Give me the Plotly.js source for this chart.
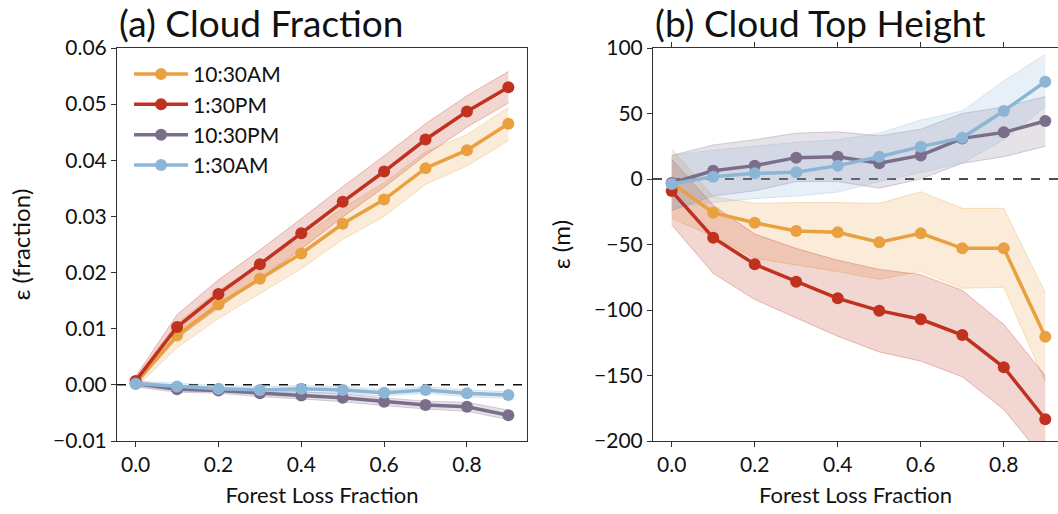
<!DOCTYPE html>
<html>
<head>
<meta charset="utf-8">
<script src="https://cdn.plot.ly/plotly-3.0.1.min.js"></script>
<style>html,body{margin:0;padding:0;background:#fff;}#chart{width:1058px;height:514px;}</style>
</head>
<body>
<div id="chart"></div>
<script>
// ---------- data ----------
const forestLoss = [0.0, 0.1, 0.2, 0.3, 0.4, 0.5, 0.6, 0.7, 0.8, 0.9];
const seriesNames = ["10:30AM", "1:30PM", "10:30PM", "1:30AM"];
const seriesColors = ["#E9A13F", "#C0321F", "#7B6E8B", "#8DB5D5"];
const seriesRGB = ["233,161,63", "192,50,31", "123,110,139", "141,181,213"];

// (a) Cloud Fraction
const cf_1030AM       = [0.0003, 0.0088, 0.0143, 0.0189, 0.0234, 0.0287, 0.0330, 0.0386, 0.0418, 0.0465];
const cf_1030AM_upper = [0.0012, 0.0110, 0.0168, 0.0215, 0.0262, 0.0315, 0.0360, 0.0415, 0.0446, 0.0494];
const cf_1030AM_lower = [-0.0005, 0.0066, 0.0118, 0.0163, 0.0207, 0.0259, 0.0300, 0.0357, 0.0390, 0.0435];

const cf_130PM       = [0.0007, 0.0103, 0.0162, 0.0215, 0.0270, 0.0326, 0.0380, 0.0437, 0.0487, 0.0530];
const cf_130PM_upper = [0.0015, 0.0125, 0.0187, 0.0240, 0.0296, 0.0353, 0.0408, 0.0465, 0.0515, 0.0558];
const cf_130PM_lower = [0.0000, 0.0083, 0.0137, 0.0190, 0.0242, 0.0299, 0.0352, 0.0409, 0.0459, 0.0502];

const cf_1030PM       = [0.0002, -0.0008, -0.0010, -0.0015, -0.0019, -0.0023, -0.0030, -0.0036, -0.0039, -0.0054];
const cf_1030PM_upper = [0.0007, -0.0003, -0.0005, -0.0009, -0.0013, -0.0016, -0.0023, -0.0029, -0.0031, -0.0045];
const cf_1030PM_lower = [-0.0004, -0.0013, -0.0015, -0.0021, -0.0025, -0.0030, -0.0037, -0.0043, -0.0047, -0.0062];

const cf_130AM       = [0.0002, -0.0003, -0.0007, -0.0009, -0.0007, -0.0009, -0.0014, -0.0009, -0.0015, -0.0018];
const cf_130AM_upper = [0.0007, 0.0003, -0.0001, -0.0003, -0.0001, -0.0003, -0.0008, -0.0003, -0.0009, -0.0012];
const cf_130AM_lower = [-0.0003, -0.0009, -0.0013, -0.0015, -0.0013, -0.0015, -0.0020, -0.0015, -0.0021, -0.0024];

// (b) Cloud Top Height (m)
const cth_1030AM       = [-3, -25.7, -33.4, -39.7, -40.7, -48.3, -41.5, -52.9, -52.9, -120.4];
const cth_1030AM_upper = [23, -13.5, -18.6, -18, -18, -18.6, -9.7, -22.4, -22.4, -87];
const cth_1030AM_lower = [-30, -44, -60.5, -65.6, -70.7, -76.6, -70.7, -83.4, -82.7, -155];

const cth_130PM       = [-9.2, -44.8, -65.1, -78.4, -91.1, -100.5, -107.1, -119.1, -143.7, -183.4];
const cth_130PM_upper = [15, -20, -42, -53, -62, -69, -73, -85, -111, -150];
const cth_130PM_lower = [-35, -72, -92, -106, -120, -132, -139, -151, -176, -215];

const cth_1030PM       = [-3, 6.3, 10.2, 16.3, 17, 12, 18, 31, 35.6, 44.3];
const cth_1030PM_upper = [18, 26, 30, 35, 36, 33, 38, 50, 55, 63];
const cth_1030PM_lower = [-24, -13, -9, -2, -2, -7, 0, 12, 17, 25];

const cth_130AM       = [-3.8, 1.8, 4.3, 5.1, 10.2, 17, 24.7, 31.5, 51.9, 74.3];
const cth_130AM_upper = [18, 22, 25, 28, 30, 35, 45, 52, 75, 95];
const cth_130AM_lower = [-22, -18, -15, -13, -10, -2, 5, 12, 30, 55];

const xTicks = [0.0, 0.2, 0.4, 0.6, 0.8];
const xTickText = ["0.0", "0.2", "0.4", "0.6", "0.8"];
const cfTicks = [-0.01, 0.0, 0.01, 0.02, 0.03, 0.04, 0.05, 0.06];
const cfTickText = ["\u22120.01", "0.00", "0.01", "0.02", "0.03", "0.04", "0.05", "0.06"];
const cthTicks = [-200, -150, -100, -50, 0, 50, 100];
const cthTickText = ["\u2212200", "\u2212150", "\u2212100", "\u221250", "0", "50", "100"];

// ---------- build traces ----------
const cfData = [
  [cf_1030AM, cf_1030AM_lower, cf_1030AM_upper],
  [cf_130PM, cf_130PM_lower, cf_130PM_upper],
  [cf_1030PM, cf_1030PM_lower, cf_1030PM_upper],
  [cf_130AM, cf_130AM_lower, cf_130AM_upper]
];
const cthData = [
  [cth_1030AM, cth_1030AM_lower, cth_1030AM_upper],
  [cth_130PM, cth_130PM_lower, cth_130PM_upper],
  [cth_1030PM, cth_1030PM_lower, cth_1030PM_upper],
  [cth_130AM, cth_130AM_lower, cth_130AM_upper]
];

const traces = [];
function addBands(data, xa, ya) {
  data.forEach((d, i) => {
    traces.push({x: forestLoss, y: d[1], xaxis: xa, yaxis: ya, mode: 'lines',
      line: {color: 'rgba(' + seriesRGB[i] + ',0.3)', width: 1}, showlegend: false, hoverinfo: 'skip'});
    traces.push({x: forestLoss, y: d[2], xaxis: xa, yaxis: ya, mode: 'lines', fill: 'tonexty',
      fillcolor: 'rgba(' + seriesRGB[i] + ',0.2)',
      line: {color: 'rgba(' + seriesRGB[i] + ',0.3)', width: 1}, showlegend: false, hoverinfo: 'skip'});
  });
}
function addLines(data, xa, ya, legend) {
  data.forEach((d, i) => {
    traces.push({x: forestLoss, y: d[0], xaxis: xa, yaxis: ya, mode: 'lines+markers', name: seriesNames[i],
      line: {color: seriesColors[i], width: 3.5}, marker: {color: seriesColors[i], size: 12},
      showlegend: legend});
  });
}
addBands(cfData, 'x', 'y');
addBands(cthData, 'x2', 'y2');
addLines(cfData, 'x', 'y', true);
addLines(cthData, 'x2', 'y2', false);

const FONT = 'Lato, "DejaVu Sans", sans-serif';
const axisCommon = {
  showgrid: false, zeroline: false, showline: true, linecolor: '#333', linewidth: 1,
  ticks: 'outside', ticklen: 5, tickwidth: 1, tickcolor: '#333',
  tickfont: {family: FONT, size: 21, color: '#111'}
};

const layout = {
  width: 1058, height: 514,
  margin: {l: 0, r: 0, t: 48, b: 73},
  paper_bgcolor: '#fff', plot_bgcolor: '#fff',
  font: {family: FONT, color: '#111'},
  showlegend: true,
  legend: {x: 0.122, y: 0.985, xanchor: 'left', yanchor: 'top', bgcolor: 'rgba(0,0,0,0)',
    traceorder: 'normal',
    font: {family: FONT, size: 21, color: '#111'}, itemwidth: 54, tracegroupgap: 0},
  xaxis: Object.assign({}, axisCommon, {domain: [117/1058, 527/1058], range: [-0.045, 0.945],
    tickvals: xTicks, ticktext: xTickText, mirror: true, anchor: 'y',
    title: {text: 'Forest Loss Fraction', font: {family: FONT, size: 22, color: '#111'}, standoff: 12}}),
  yaxis: Object.assign({}, axisCommon, {range: [-0.01, 0.06], tickvals: cfTicks, ticktext: cfTickText,
    mirror: true, anchor: 'x',
    title: {text: '\u03b5 (fraction)', font: {family: FONT, size: 24, color: '#111'}, standoff: 15}}),
  xaxis2: Object.assign({}, axisCommon, {domain: [653/1058, 1], range: [-0.045, 0.9306],
    tickvals: xTicks, ticktext: xTickText, anchor: 'y2', mirror: 'allticks',
    title: {text: 'Forest Loss Fraction', font: {family: FONT, size: 22, color: '#111'}, standoff: 12}}),
  yaxis2: Object.assign({}, axisCommon, {range: [-200, 100], tickvals: cthTicks, ticktext: cthTickText,
    anchor: 'x2',
    title: {text: '\u03b5 (m)', font: {family: FONT, size: 24, color: '#111'}, standoff: 16}}),
  shapes: [
    {type: 'line', xref: 'x domain', yref: 'y', x0: 0, x1: 1, y0: 0, y1: 0,
      line: {color: '#111', width: 1.5, dash: 'dash'}, layer: 'below'},
    {type: 'line', xref: 'x2 domain', yref: 'y2', x0: 0, x1: 1, y0: 0, y1: 0,
      line: {color: '#111', width: 1.5, dash: 'dash'}, layer: 'below'}
  ],
  annotations: [
    {text: '(a) Cloud Fraction', xref: 'paper', yref: 'paper', x: 117/1058, y: 1, yshift: 50,
      xanchor: 'left', yanchor: 'top', showarrow: false, font: {family: FONT, size: 37, color: '#111'}},
    {text: '(b) Cloud Top Height', xref: 'paper', yref: 'paper', x: 653/1058, y: 1, yshift: 50,
      xanchor: 'left', yanchor: 'top', showarrow: false, font: {family: FONT, size: 37, color: '#111'}}
  ]
};

Plotly.newPlot('chart', traces, layout, {staticPlot: true, displayModeBar: false});
</script>
</body>
</html>
